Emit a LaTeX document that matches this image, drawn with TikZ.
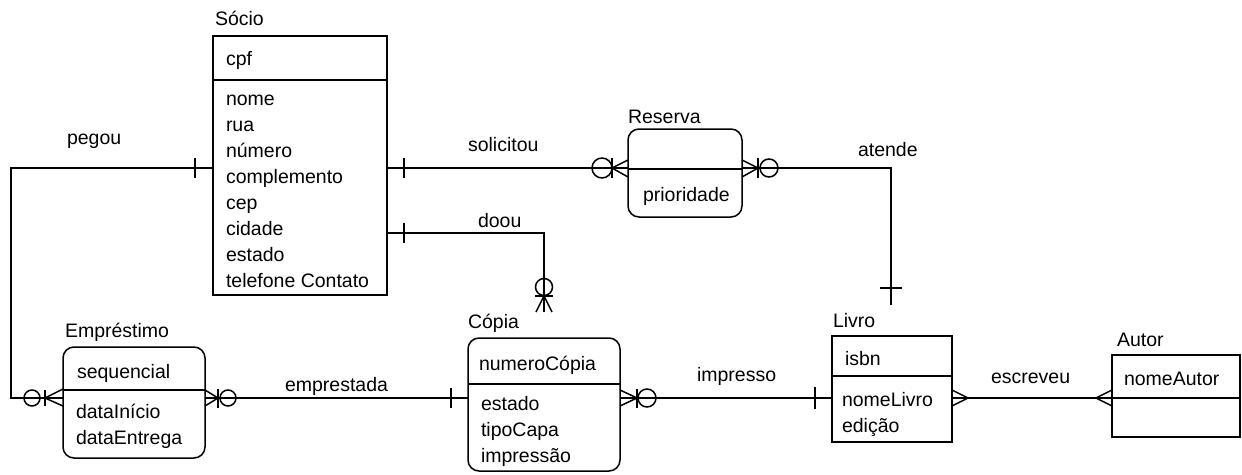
\documentclass[tikz,border=0pt]{standalone}
\usepackage{fontspec}
\setmainfont{Liberation Sans}
\tikzset{
  ent/.style={draw, line width=1.5pt, outer sep=0pt, inner sep=0pt, anchor=north west},
  rent/.style={ent, rounded corners=11pt},
  txt/.style={anchor=base west, inner sep=0pt, outer sep=0pt, font=\fontsize{19.5}{22}\selectfont},
  conn/.style={line width=1.5pt, line join=miter},
  mk/.style={line width=1.5pt}
}
\begin{document}
\begin{tikzpicture}[x=1pt,y=-1pt]
\useasboundingbox (0,0) rectangle (1242,474);
% entities
\node[ent, minimum width=174pt, minimum height=259pt] (socio) at (213,36) {};
\node[rent, minimum width=114pt, minimum height=88pt] (reserva) at (628,129) {};
\node[rent, minimum width=142pt, minimum height=111pt] (emprestimo) at (63,347) {};
\node[rent, minimum width=152pt, minimum height=133pt] (copia) at (468,338) {};
\node[ent, minimum width=120pt, minimum height=106pt] (livro) at (832,336) {};
\node[ent, minimum width=128pt, minimum height=82pt] (autor) at (1112,355) {};
% separators
\draw[mk] (socio.west |- 0,80) -- (socio.east |- 0,80);
\draw[mk] (reserva.west |- 0,169) -- (reserva.east |- 0,169);
\draw[mk] (emprestimo.west |- 0,390) -- (emprestimo.east |- 0,390);
\draw[mk] (copia.west |- 0,384) -- (copia.east |- 0,384);
\draw[mk] (livro.west |- 0,376) -- (livro.east |- 0,376);
\draw[mk] (autor.west |- 0,398) -- (autor.east |- 0,398);
% titles
\node[txt] (tsocio) at (215,25) {Sócio};
\node[txt] (treserva) at (628,123) {Reserva};
\node[txt] (temprestimo) at (65,337) {Empréstimo};
\node[txt] (tcopia) at (468,328) {Cópia};
\node[txt] (tlivro) at (833,327) {Livro};
\node[txt] (tautor) at (1117,346) {Autor};
% attributes
\node[txt] (a1) at (226,65) {cpf};
\node[txt] (a2) at (226,105) {nome};
\node[txt] (a3) at (226,131) {rua};
\node[txt] (a4) at (226,157) {número};
\node[txt] (a5) at (226,183) {complemento};
\node[txt] (a6) at (226,209) {cep};
\node[txt] (a7) at (226,235) {cidade};
\node[txt] (a8) at (226,261) {estado};
\node[txt] (a9) at (226,287) {telefone Contato};
\node[txt] (b1) at (643,201) {prioridade};
\node[txt] (c1) at (77,378) {sequencial};
\node[txt] (c2) at (76,418) {dataInício};
\node[txt] (c3) at (76,444) {dataEntrega};
\node[txt] (d1) at (479,370) {numeroCópia};
\node[txt] (d2) at (481,410) {estado};
\node[txt] (d3) at (481,436) {tipoCapa};
\node[txt] (d4) at (481,462) {impressão};
\node[txt] (e1) at (845,365) {isbn};
\node[txt] (e2) at (842,406) {nomeLivro};
\node[txt] (e3) at (842,432) {edição};
\node[txt] (f1) at (1124,385) {nomeAutor};
% relationship labels
\node[txt] (lpegou) at (67,144) {pegou};
\node[txt] (lsolicitou) at (468,151) {solicitou};
\node[txt] (ldoou) at (478,227) {doou};
\node[txt] (latende) at (858,156) {atende};
\node[txt] (lemprestada) at (285,391) {emprestada};
\node[txt] (limpresso) at (697,381) {impresso};
\node[txt] (lescreveu) at (991,383) {escreveu};
% coordinates for free ends
\coordinate (pg1) at (11,168);
\coordinate (pg2) at (11,398);
\coordinate (at1) at (891,168);
\coordinate (at2) at (891,305);
\coordinate (do1) at (544,233);
\coordinate (do2) at (544,312);
% pegou
\draw[conn] (socio.west |- pg1) -- (pg1) -- (pg2) -- (emprestimo.west |- pg2);
\draw[mk] (195,158) -- (195,178);
\draw[mk] (32,398) circle (8);
\draw[mk] (45,390) -- (45,406);
\draw[mk] (63,389) -- (45,398) -- (63,406);
% solicitou
\draw[conn] (socio.east |- 0,168) -- (reserva.west |- 0,168);
\draw[mk] (404,158) -- (404,178);
\draw[mk] (602,168) circle (10);
\draw[mk] (612,158) -- (612,178);
\draw[mk] (628,160) -- (612,168) -- (628,177);
% atende
\draw[conn] (reserva.east |- at1) -- (at1) -- (at2);
\draw[mk] (742,160) -- (758,168) -- (742,177);
\draw[mk] (758,158) -- (758,178);
\draw[mk] (769,168) circle (9);
\draw[mk] (880,288) -- (902,288);
% doou
\draw[conn] (socio.east |- do1) -- (do1) -- (do2);
\draw[mk] (404,223) -- (404,243);
\draw[mk] (544,287) circle (8.5);
\draw[mk] (535,296) -- (553,296);
\draw[mk] (536,312) -- (544,296) -- (552,312);
% emprestada
\draw[conn] (emprestimo.east |- 0,398) -- (copia.west |- 0,398);
\draw[mk] (205,390) -- (218,398) -- (205,406);
\draw[mk] (218,389) -- (218,408);
\draw[mk] (228,398) circle (8);
\draw[mk] (451,388) -- (451,408);
% impresso
\draw[conn] (copia.east |- 0,398) -- (livro.west |- 0,398);
\draw[mk] (620,390) -- (637,398) -- (620,406);
\draw[mk] (637,389) -- (637,408);
\draw[mk] (647,398) circle (9);
\draw[mk] (815,387) -- (815,409);
% escreveu
\draw[conn] (livro.east |- 0,398) -- (autor.west |- 0,398);
\draw[mk] (952,390) -- (968,398) -- (952,406);
\draw[mk] (1112,390) -- (1096,398) -- (1112,406);
\end{tikzpicture}
\end{document}
